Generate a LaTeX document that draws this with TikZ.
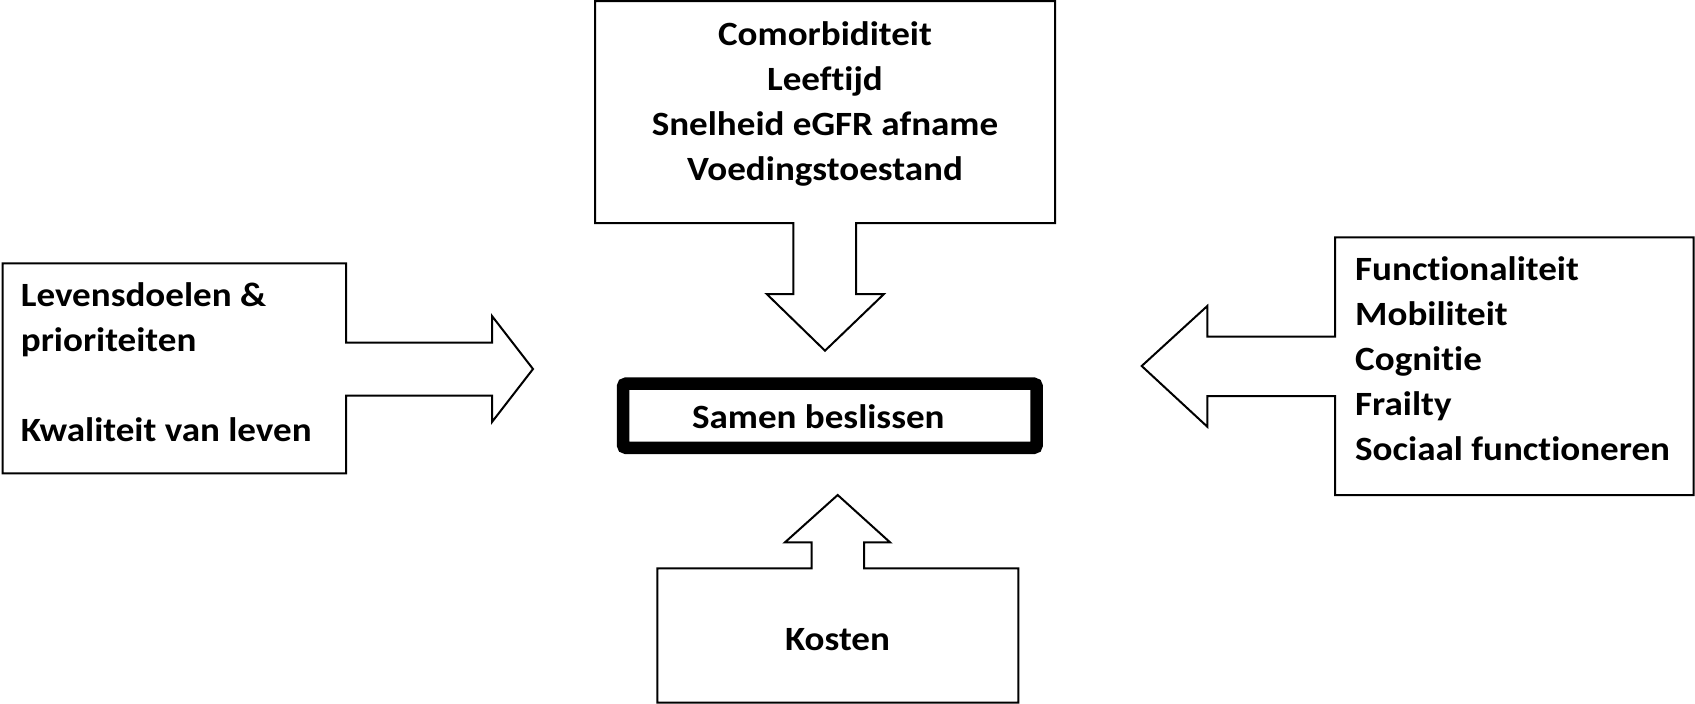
\documentclass[tikz,border=0pt]{standalone}
\usepackage{fontspec}
\setmainfont{Carlito}[FakeStretch=1.09, RawFeature=-liga]
\begin{document}
\begin{tikzpicture}[x=1pt,y=-1pt,
  callout/.style={draw=black, line width=2pt, line join=miter, fill=white},
  central/.style={draw=black, line width=12.5pt, rounded corners=3pt},
  lbl/.style={font=\bfseries\fontsize{34}{45}\selectfont, inner sep=0pt}]
\useasboundingbox[fill=white] (0,0) rectangle (1695,704);
% top callout
\draw[callout] (595,1) -- (1055,1) -- (1055,223) -- (856,223) -- (856,294) -- (884,294)
  -- (825,350.7) -- (766.7,294) -- (793.3,294) -- (793.3,223) -- (595,223) -- cycle;
\node[lbl, align=center, anchor=base] (top) at (825,180)
  {Comorbiditeit\\Leeftijd\\Snelheid eGFR afname\\Voedingstoestand};
% left callout
\draw[callout] (2.7,263.3) -- (346,263.3) -- (346,342.5) -- (492,342.5) -- (492,316)
  -- (533,369) -- (492,422) -- (492,395.5) -- (346,395.5) -- (346,473.3) -- (2.7,473.3) -- cycle;
\node[lbl, align=left, anchor=base west] (left) at (20.7,441.7)
  {Levensdoelen \&\\prioriteiten\\[45pt]Kwaliteit van leven};
% right callout
\draw[callout] (1335,237.3) -- (1693.5,237.3) -- (1693.5,495) -- (1335,495) -- (1335,396)
  -- (1207.3,396) -- (1207.3,426.7) -- (1141.7,366) -- (1207.3,306) -- (1207.3,336.7)
  -- (1335,336.7) -- cycle;
\node[lbl, align=left, anchor=base west] (right) at (1355,460)
  {Functionaliteit\\Mobiliteit\\Cognitie\\Frailty\\Sociaal functioneren};
% bottom callout
\draw[callout] (657.3,702.7) -- (1018.3,702.7) -- (1018.3,568.3) -- (864,568.3) -- (864,542.3)
  -- (890,542.3) -- (837.7,495) -- (785,542.3) -- (811.7,542.3) -- (811.7,568.3)
  -- (657.3,568.3) -- cycle;
\node[lbl, anchor=base] (kosten) at (837.5,650) {Kosten};
% central box
\draw[central] (623,383.7) rectangle (1036.7,447.8);
\node[lbl, anchor=base] (samen) at (818.3,428.3) {Samen beslissen};
\end{tikzpicture}
\end{document}
